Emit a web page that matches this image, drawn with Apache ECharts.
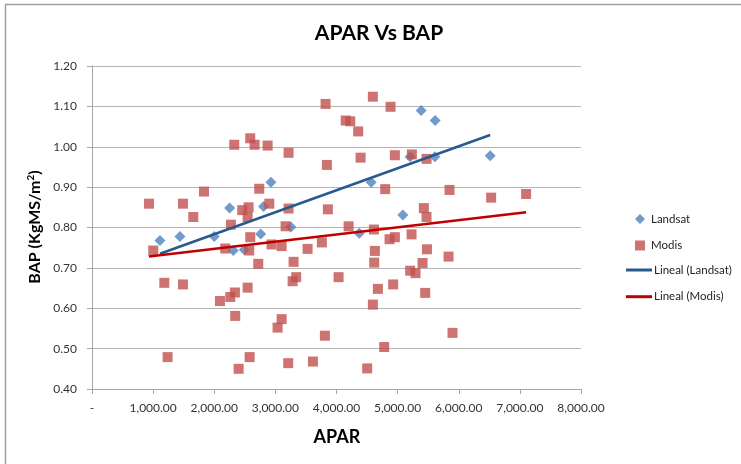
<!DOCTYPE html>
<html>
<head>
<meta charset="utf-8">
<script src="https://cdn.jsdelivr.net/npm/echarts@6/dist/echarts.min.js"></script>
<style>
html,body{margin:0;padding:0;background:#fff;}
#chart{width:741px;height:464px;}
</style>
</head>
<body>
<div id="chart"></div>
<script>
// ---- data ----
const landsatX = [1112,1439,2000,2252,2311,2491,2760,2807,2927,3254,4372,4567,5086,5205,5385,5609,5614,6514];
const landsatY = [0.768,0.778,0.778,0.848,0.743,0.745,0.784,0.852,0.912,0.801,0.786,0.912,0.831,0.975,1.090,0.975,1.065,0.978];

const modisX = [932,1002,1183,1237,1488,1488,1657,1832,2093,2180,2262,2273,2327,2338,2343,2399,2458,2546,2546,2562,2572,2579,2589,2589,2660,2720,2736,2873,2900,2938,3036,3102,3102,3167,3210,3216,3216,3282,3298,3341,3527,3614,3761,3810,3821,3843,3859,4034,4150,4198,4225,4355,4394,4502,4595,4595,4612,4617,4628,4677,4780,4797,4868,4884,4927,4955,4955,5205,5228,5233,5293,5408,5429,5451,5473,5473,5480,5833,5849,5898,6530,7102];
const modisY = [0.859,0.743,0.663,0.479,0.859,0.659,0.826,0.889,0.618,0.748,0.628,0.807,1.005,0.639,0.581,0.450,0.843,0.826,0.651,0.850,0.743,0.479,1.021,0.776,1.005,0.710,0.896,1.003,0.859,0.758,0.552,0.754,0.573,0.803,0.464,0.985,0.847,0.667,0.715,0.677,0.747,0.468,0.763,0.532,1.106,0.955,0.845,0.677,1.065,0.803,1.063,1.038,0.973,0.451,1.124,0.609,0.795,0.713,0.742,0.648,0.504,0.895,0.771,1.099,0.659,0.979,0.776,0.693,0.783,0.981,0.687,0.712,0.848,0.638,0.970,0.826,0.746,0.728,0.893,0.539,0.874,0.883];

const landsatTrendX = [1112, 6514];
const landsatTrendY = [0.735, 1.029];
const modisTrendX = [932, 7102];
const modisTrendY = [0.728, 0.838];

const xMin = 0, xMax = 8000, xStep = 1000;
const yMin = 0.4, yMax = 1.2, yStep = 0.1;

const titleText = 'APAR Vs BAP';
const xTitle = 'APAR';
const seriesNames = ['Landsat', 'Modis', 'Lineal (Landsat)', 'Lineal (Modis)'];

function pairs(xs, ys){ return xs.map((x,i)=>[x, ys[i]]); }
function fmtX(v){
  if (v === 0) return '-';
  const s = v.toFixed(2);
  const parts = s.split('.');
  parts[0] = parts[0].replace(/\B(?=(\d{3})+(?!\d))/g, ',');
  return parts.join('.');
}

const FONT = 'Lato, "Liberation Sans", sans-serif';
const chart = echarts.init(document.getElementById('chart'), null, {renderer:'canvas'});
chart.setOption({
  animation: false,
  backgroundColor: '#ffffff',
  textStyle: {fontFamily: FONT},
  grid: {left: 92, top: 66, width: 489, height: 323, containLabel: false},
  xAxis: {
    type: 'value', min: xMin, max: xMax, interval: xStep,
    axisLine: {show: true, lineStyle: {color: '#a6a6a6', width: 1}},
    axisTick: {show: true, length: 5, lineStyle: {color: '#a6a6a6'}},
    splitLine: {show: false},
    axisLabel: {formatter: fmtX, color: '#333', fontSize: 12, margin: 13, fontFamily: FONT}
  },
  yAxis: {
    type: 'value', min: yMin, max: yMax, interval: yStep,
    axisLine: {show: true, lineStyle: {color: '#a6a6a6', width: 1}},
    axisTick: {show: true, length: 5, lineStyle: {color: '#a6a6a6'}},
    splitLine: {show: true, lineStyle: {color: '#b4b4b4', width: 1}},
    axisLabel: {formatter: v => v.toFixed(2), color: '#333', fontSize: 12, margin: 15, fontFamily: FONT}
  },
  legend: [
    {
      orient: 'vertical', left: 635, top: 212, padding: 0,
      itemWidth: 10, itemHeight: 10, itemGap: 12.5,
      textStyle: {fontSize: 11.5, color: '#222', lineHeight: 14, padding: [0,0,0,1], fontFamily: FONT},
      data: [{name: seriesNames[0], icon: 'diamond'}, {name: seriesNames[1], icon: 'rect'}],
      selectedMode: false
    },
    {
      orient: 'vertical', left: 626, top: 263, padding: 0,
      itemWidth: 26, itemHeight: 3, itemGap: 12.7,
      textStyle: {fontSize: 11.5, color: '#222', lineHeight: 14, padding: [0,0,0,-3], fontFamily: FONT},
      data: [{name: seriesNames[2], icon: 'rect'}, {name: seriesNames[3], icon: 'rect'}],
      selectedMode: false
    }
  ],
  graphic: [
    {type: 'rect', silent: true, z: -10, shape: {x: 5.5, y: 4.5, width: 900, height: 700},
     style: {fill: null, stroke: '#a0a0a0', lineWidth: 1.5}},
    {type: 'text', x: 379, y: 33, silent: true,
     style: {text: titleText, fontSize: 21, fontWeight: 'bold', fill: '#000', fontFamily: FONT, align: 'center', verticalAlign: 'middle'}},
    {type: 'text', x: 337, y: 437, silent: true,
     style: {text: xTitle, fontSize: 18, fontWeight: 'bold', fill: '#000', fontFamily: FONT, align: 'center', verticalAlign: 'middle'}},
    {type: 'text', x: 35, y: 227, rotation: Math.PI/2, silent: true,
     style: {text: 'BAP (KgMS/m{s|2})', fontSize: 16, fontWeight: 'bold', fill: '#000', fontFamily: FONT,
             align: 'center', verticalAlign: 'middle',
             rich: {s: {fontSize: 10, fontWeight: 'bold', fontFamily: FONT, fill: '#000', verticalAlign: 'top', padding: [0,0,8,0]}}}}
  ],
  series: [
    {name: seriesNames[0], type: 'scatter', symbol: 'diamond', symbolSize: 11, z: 2,
     itemStyle: {color: '#4F81BD'}, data: pairs(landsatX, landsatY)},
    {name: seriesNames[1], type: 'scatter', symbol: 'rect', symbolSize: 10, z: 3,
     itemStyle: {color: '#C0504D'}, data: pairs(modisX, modisY)},
    {name: seriesNames[2], type: 'line', symbol: 'none', z: 4, color: '#285A8F',
     lineStyle: {color: '#285A8F', width: 2.5}, itemStyle: {color: '#285A8F'},
     data: pairs(landsatTrendX, landsatTrendY)},
    {name: seriesNames[3], type: 'line', symbol: 'none', z: 4, color: '#C00000',
     lineStyle: {color: '#C00000', width: 2.5}, itemStyle: {color: '#C00000'},
     data: pairs(modisTrendX, modisTrendY)}
  ]
});
</script>
</body>
</html>
